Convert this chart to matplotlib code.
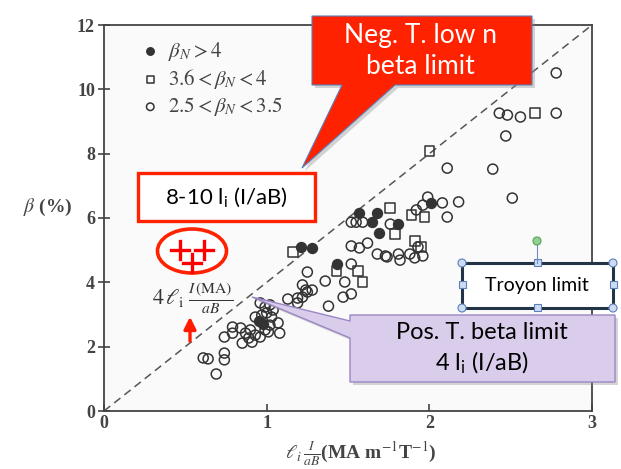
import numpy as np
import matplotlib.pyplot as plt
from matplotlib.transforms import Affine2D
from matplotlib.patches import Polygon, Rectangle, Ellipse, Circle, FancyArrowPatch
from matplotlib.lines import Line2D

# beta_N > 4  (filled circles)
hi_x = [2.01, 1.57, 1.68, 1.65, 1.81, 1.69, 1.21, 1.28, 1.43, 0.95, 0.98]
hi_y = [6.47, 6.15, 6.15, 5.87, 5.81, 5.53, 5.10, 5.07, 4.57, 2.80, 2.70]

# 3.6 < beta_N < 4  (squares)
mid_x = [2.00, 2.65, 1.76, 1.89, 1.97, 1.79, 1.91, 1.95, 1.16, 1.43, 1.56, 1.59]
mid_y = [8.08, 9.26, 6.31, 6.09, 6.03, 5.50, 5.28, 5.10, 4.94, 4.35, 4.35, 4.01]

# 2.5 < beta_N < 3.5  (open circles)
lo_x = [2.78, 2.43, 2.48, 2.56, 2.78, 2.47, 2.11, 2.39, 2.51, 2.08, 2.18, 2.11,
        1.99, 1.96, 1.92, 1.76, 1.93, 1.73, 1.81, 1.82, 1.88, 1.91, 1.96,
        1.52, 1.55, 1.59, 1.52, 1.57, 1.62, 1.68, 1.74, 1.25, 1.52, 1.36, 1.48,
        1.22, 1.24, 1.28, 1.19, 1.13, 1.47, 1.52, 1.38,
        0.61, 0.64, 0.74, 0.74, 0.69, 0.74, 0.79, 0.79, 0.84, 0.87, 0.90, 0.89,
        0.93, 0.85, 0.91, 0.96, 1.01, 1.07, 1.08, 0.93, 0.97, 1.00, 1.03, 0.99,
        1.02, 1.04, 0.96, 1.19, 1.22, 1.25, 0.99, 1.02]
lo_y = [10.51, 9.26, 9.20, 9.14, 9.26, 8.55, 7.55, 7.52, 6.62, 6.47, 6.50, 6.03,
        6.65, 6.40, 6.25, 5.81, 5.10, 4.82, 4.88, 4.69, 4.88, 4.76, 4.82,
        5.87, 5.87, 5.87, 5.13, 5.07, 5.22, 4.88, 4.79, 4.32, 4.57, 4.04, 4.01,
        3.92, 3.76, 3.76, 3.51, 3.48, 3.54, 3.64, 3.26,
        1.65, 1.62, 1.80, 1.59, 1.15, 2.30, 2.42, 2.61, 2.58, 2.42, 2.52, 2.27,
        2.36, 2.11, 2.14, 2.30, 2.46, 2.74, 2.42, 2.92, 2.98, 3.05, 2.92, 3.23,
        3.30, 3.14, 3.36, 3.36, 3.54, 3.70, 2.52, 2.67]

# Troyon line beta = 4 li I/aB
lim_x = [0, 3]
lim_y = [0, 12]

x_ticks = [0, 1, 2, 3]
y_ticks = [0, 2, 4, 6, 8, 10, 12]

plt.rcParams['font.family'] = ['Liberation Serif', 'DejaVu Serif']
plt.rcParams['mathtext.fontset'] = 'stix'

W, H = 621, 469
fig = plt.figure(figsize=(W / 100, H / 100), dpi=100)
ax = fig.add_axes([104 / W, 1 - 411 / H, (592 - 104) / W, (411 - 25) / H])
ax.set_facecolor('#fafafa')

ink = '#333333'
ax.plot(lim_x, lim_y, color='#555555', lw=1.1, dashes=(5.2, 3.3), zorder=1)
h1 = ax.scatter(hi_x, hi_y, s=50, marker='o', facecolors=ink, edgecolors=ink, linewidths=1.1, zorder=3)
h2 = ax.scatter(mid_x, mid_y, s=48, marker='s', facecolors='none', edgecolors=ink, linewidths=1.1, zorder=3)
h3 = ax.scatter(lo_x, lo_y, s=52, marker='o', facecolors='none', edgecolors=ink, linewidths=1.1, zorder=2)

ax.set_xlim(0, 3)
ax.set_ylim(0, 12)
ax.set_xticks(x_ticks)
ax.set_yticks(y_ticks)
for s in ax.spines.values():
    s.set_color('#444444')
    s.set_linewidth(1.3)
ax.tick_params(axis='y', direction='inout', length=9, width=1.2, color='#444444',
               labelsize=13, labelcolor='#444444', pad=2)
ax.tick_params(axis='x', direction='in', length=5, width=1.2, color='#444444',
               labelsize=13, labelcolor='#444444', pad=3)
for lab in ax.get_xticklabels() + ax.get_yticklabels():
    lab.set_fontweight('bold')

ax.set_ylabel(r'$\beta$ (%)', rotation=0, fontsize=14, fontweight='bold', color='#444444')
ax.yaxis.set_label_coords(-0.115, 0.5)
ax.set_xlabel(r'$\ell_i\,\frac{I}{aB}$(MA m$^{-1}$T$^{-1}$)', fontsize=14, fontweight='bold', color='#444444')
ax.xaxis.set_label_coords(0.527, -0.075)

leg = ax.legend([h1, h2, h3],
                [r'$\beta_N > 4$', r'$3.6 < \beta_N < 4$', r'$2.5 < \beta_N < 3.5$'],
                loc='upper left', bbox_to_anchor=(0.035, 1.01), frameon=False,
                fontsize=15, handletextpad=0.35, labelspacing=0.2, handlelength=1.0,
                markerscale=0.75)
for t in leg.get_texts():
    t.set_color('#444444')

# annotations, laid out in pixel coordinates (origin top-left)
pix = Affine2D().scale(1 / W, -1 / H).translate(0, 1) + fig.transFigure
sans = ['Lato', 'DejaVu Sans']

def shadow(pts):
    sh = [(x + 3, y + 3) for x, y in pts]
    fig.add_artist(Polygon(sh, closed=True, transform=pix, facecolor='#888888',
                           edgecolor='none', alpha=0.35))

# red callout
red_pts = [(312, 16), (532, 16), (532, 85), (395, 85), (302, 168), (342, 85), (312, 85)]
shadow(red_pts)
fig.add_artist(Polygon(red_pts, closed=True, transform=pix, facecolor='#fe2200',
                       edgecolor='#5a7fbf', lw=0.8))
fig.text(420, 51, 'Neg. T. low n\nbeta limit', transform=pix, ha='center', va='center',
         color='white', fontsize=19, family=sans, linespacing=1.3)

# 8-10 li box
fig.add_artist(Rectangle((138, 173), 177, 48, transform=pix, facecolor='white',
                         edgecolor='#ff2200', lw=2.4))
fig.text(226, 197, r'8-10 $\mathregular{l_i}$ (I/aB)', transform=pix, ha='center',
         va='center', color='black', fontsize=16, family=sans)

# red ellipse with crosses
fig.add_artist(Ellipse((192, 251), 69, 44, transform=pix, facecolor='white',
                       edgecolor='#ff2200', lw=2.6))
for cx, cy in [(180, 250), (204, 250), (192, 263)]:
    fig.add_artist(Line2D([cx - 9, cx + 9], [cy, cy], transform=pix, color='#ff0000', lw=2.4))
    fig.add_artist(Line2D([cx, cx], [cy - 9, cy + 9], transform=pix, color='#ff0000', lw=2.4))

# 4 li I(MA)/aB label and arrow
fig.text(193, 299, r'$4\,\ell_{\mathrm{i}}\;\frac{I\,\mathrm{(MA)}}{aB}$', transform=pix,
         ha='center', va='center', fontsize=16, color='#333333')
fig.add_artist(FancyArrowPatch((190, 344), (190, 314), transform=pix, arrowstyle='-|>',
                               mutation_scale=18, color='#ff1a00', lw=2.4))

# purple callout
pur_pts = [(350, 315), (615, 315), (615, 382), (350, 382), (350, 338), (252, 297), (350, 321)]
shadow(pur_pts)
fig.add_artist(Polygon(pur_pts, closed=True, transform=pix, facecolor='#d9cdeb',
                       edgecolor='#9b87c4', lw=1.0))
fig.text(482, 349, 'Pos. T. beta limit\n' + r'4 $\mathregular{l_i}$ (I/aB)', transform=pix,
         ha='center', va='center', color='black', fontsize=17, family=sans, linespacing=1.35)

# Troyon limit box with selection handles
fig.add_artist(Line2D([537, 537], [245, 263], transform=pix, color='#6c8ebf', lw=0.8))
fig.add_artist(Rectangle((462, 263), 151, 45, transform=pix, facecolor='white',
                         edgecolor='#243447', lw=2.2))
fig.text(537, 286, 'Troyon limit', transform=pix, ha='center', va='center',
         color='black', fontsize=14, family=sans)
for hx, hy in [(462, 263), (613, 263), (462, 308), (613, 308)]:
    fig.add_artist(Circle((hx, hy), 4, transform=pix, facecolor='#cddcf0',
                          edgecolor='#5b7fbf', lw=0.8))
for hx, hy in [(537, 263), (537, 308), (462, 285), (613, 285)]:
    fig.add_artist(Rectangle((hx - 3.5, hy - 3.5), 7, 7, transform=pix, facecolor='#cddcf0',
                             edgecolor='#5b7fbf', lw=0.8))
fig.add_artist(Circle((537, 241), 4, transform=pix, facecolor='#8fd18f',
                      edgecolor='#5aa05a', lw=0.8))

fig.savefig('out.png', dpi=100)
